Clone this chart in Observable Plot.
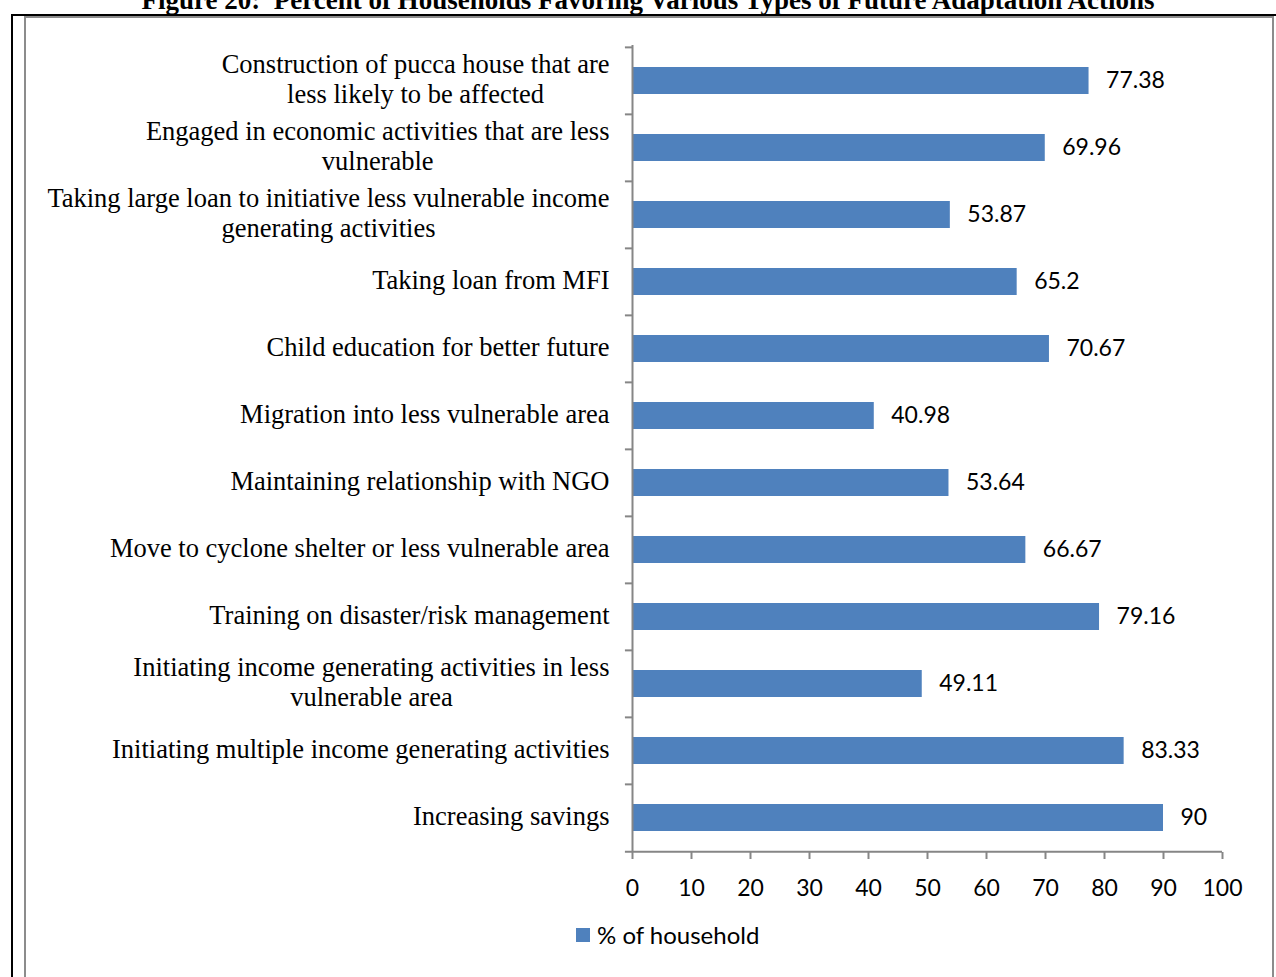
<!DOCTYPE html>
<html>
<head>
<meta charset="utf-8">
<script src="https://cdn.jsdelivr.net/npm/d3@7"></script>
<script src="https://cdn.jsdelivr.net/npm/@observablehq/plot@0.6"></script>
<style>
  body { margin: 0; background: #fff; }
  #wrap { position: relative; width: 1276px; height: 977px; overflow: hidden; background: #fff; }
  #title { position: absolute; left: 0; width: 1296px; top: -13px; text-align: center;
           font-family: "Liberation Serif", "Times New Roman", serif; font-weight: bold;
           font-size: 27px; line-height: 27px; color: #000; white-space: pre; }
  #outer { position: absolute; left: 11px; top: 14px; width: 1300px; height: 1000px;
           border-left: 2px solid #000; border-top: 2px solid #000; }
  #inner { position: absolute; left: 24px; top: 16px; width: 1246px; height: 1000px;
           border: 2px solid #8c8c8c; border-bottom: none; }
  #chart { position: absolute; left: 0; top: 0; }
  #legend { position: absolute; left: 576px; top: 921px; font-family: Lato, sans-serif;
            font-size: 24px; line-height: 28px; color: #000; display: flex; align-items: center; }
  #legend span.sw { display: inline-block; width: 14px; height: 14px; background: #4f81bd; margin-right: 7px; }
</style>
</head>
<body>
<div id="wrap">
  <div id="title"></div>
  <div id="outer"></div>
  <div id="inner"></div>
  <div id="chart"></div>
  <div id="legend"><span class="sw"></span><span id="legtext"></span></div>
</div>
<script>
const titleText = "Figure 20:  Percent of Households Favoring Various Types of Future Adaptation Actions";
const seriesName = "% of household";

const categories = [
  "Construction of pucca house that are less likely to be affected",
  "Engaged in economic activities that are less vulnerable",
  "Taking large loan to initiative less vulnerable income generating activities",
  "Taking loan from MFI",
  "Child education for better future",
  "Migration into less vulnerable area",
  "Maintaining relationship with NGO",
  "Move to cyclone shelter or less vulnerable area",
  "Training on disaster/risk management",
  "Initiating income generating activities in less vulnerable area",
  "Initiating multiple income generating activities",
  "Increasing savings"
];
const categoryLabels = [
  "Construction of pucca house that are\nless likely to be affected",
  "Engaged in economic activities that are less\nvulnerable",
  "Taking large loan to initiative less vulnerable income\ngenerating activities",
  "Taking loan from MFI",
  "Child education for better future",
  "Migration into less vulnerable area",
  "Maintaining relationship with NGO",
  "Move to cyclone shelter or less vulnerable area",
  "Training on disaster/risk management",
  "Initiating income generating activities in less\nvulnerable area",
  "Initiating multiple income generating activities",
  "Increasing savings"
];
const values = [77.38, 69.96, 53.87, 65.2, 70.67, 40.98, 53.64, 66.67, 79.16, 49.11, 83.33, 90];
const valueLabels = ["77.38", "69.96", "53.87", "65.2", "70.67", "40.98", "53.64", "66.67", "79.16", "49.11", "83.33", "90"];
const xTicks = [0, 10, 20, 30, 40, 50, 60, 70, 80, 90, 100];

document.getElementById("title").textContent = titleText;
document.getElementById("legtext").textContent = seriesName;

const data = categories.map((c, i) => ({cat: c, value: values[i], label: valueLabels[i]}));
const labelOf = new Map(categories.map((c, i) => [c, categoryLabels[i]]));

const W = 1276, H = 977, mT = 45, mB = 125, mL = 632, mR = 54;
const step = (H - mT - mB) / categories.length;
const axisColor = "#868686";

const chart = Plot.plot({
  width: W, height: H,
  marginLeft: mL, marginRight: mR, marginTop: mT, marginBottom: mB,
  style: {background: "transparent", overflow: "visible"},
  x: {domain: [0, 100], ticks: xTicks},
  y: {domain: categories, paddingInner: 0.6, paddingOuter: 0.3},
  marks: [
    Plot.barX(data, {x: "value", y: "cat", fill: "#4f81bd"}),
    Plot.text(data, {x: "value", y: "cat", text: "label", textAnchor: "start", dx: 17,
      fontFamily: "Lato, sans-serif", fontSize: 23, fill: "#000"}),
    Plot.ruleX([0], {stroke: axisColor, strokeWidth: 2}),
    Plot.ruleY(categories, {y: d => d, x1: -1.2, x2: 0, dy: -step / 2, stroke: axisColor, strokeWidth: 2}),
    Plot.ruleY(categories.slice(-1), {y: d => d, x1: -1.2, x2: 100, dy: step / 2, stroke: axisColor, strokeWidth: 2}),
    Plot.axisX({ticks: xTicks, tickSize: 7, tickPadding: 20, stroke: axisColor, strokeWidth: 2,
      fill: "#000", fontFamily: "Lato, sans-serif", fontSize: 23, label: null, tickFormat: d => String(d)}),
    Plot.axisY({tickSize: 0, tickPadding: 23, dy: -2.5, label: null, fill: "#000",
      fontFamily: "'Liberation Serif', 'Times New Roman', serif", fontSize: 26.5, lineHeight: 1.13,
      tickFormat: d => labelOf.get(d)})
  ]
});
document.getElementById("chart").appendChild(chart);

// Center multi-line category labels relative to each other (right-aligned block)
chart.querySelectorAll('g[aria-label="y-axis tick label"] text').forEach(t => {
  const spans = t.querySelectorAll("tspan");
  if (spans.length > 1) {
    let maxW = 0;
    spans.forEach(s => { maxW = Math.max(maxW, s.getComputedTextLength()); });
    t.setAttribute("text-anchor", "middle");
    spans.forEach(s => s.setAttribute("x", -maxW / 2));
  }
});
</script>
</body>
</html>
